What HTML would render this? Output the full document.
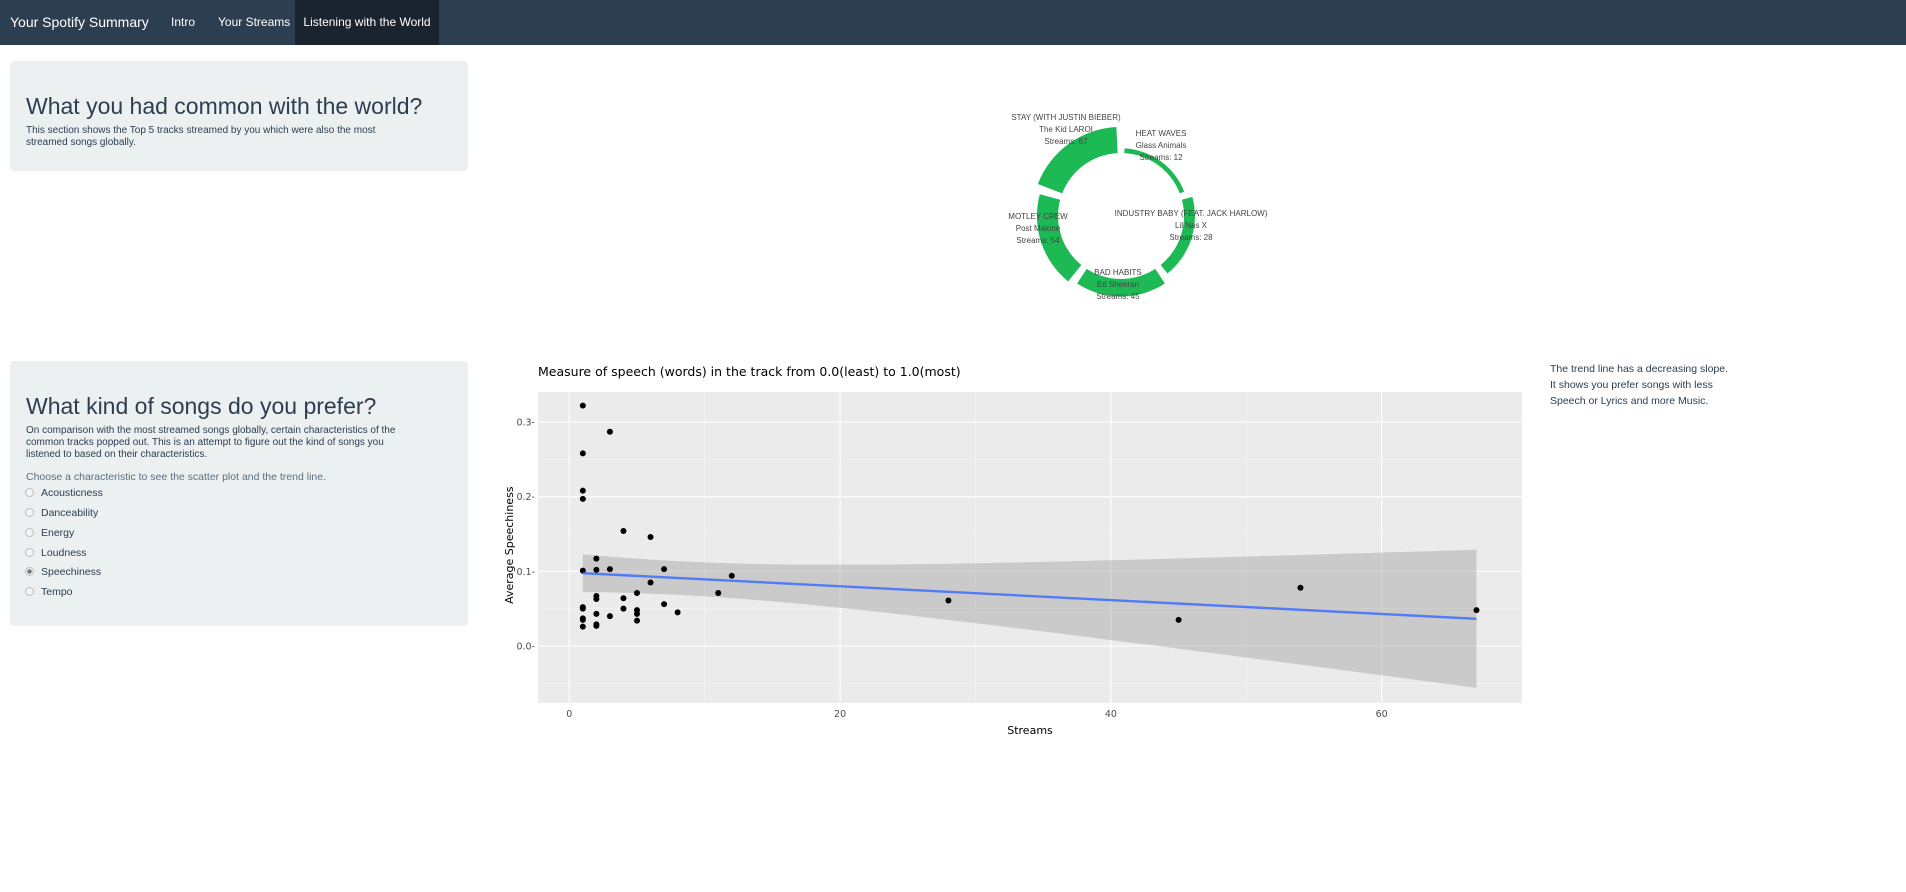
<!DOCTYPE html>
<html><head><meta charset="utf-8">
<style>
body{margin:0;width:1906px;height:892px;background:#fff;font-family:"Liberation Sans",sans-serif;position:relative;overflow:hidden}
.nav{position:absolute;left:0;top:0;width:1906px;height:45px;background:#2c3e50}
.nav div{position:absolute;top:0;height:45px;line-height:45px;color:#fff;font-size:12px}
.panel{position:absolute;left:10px;width:458px;background:#ecf0f1;border-radius:4px}
.abs{position:absolute;white-space:nowrap}
h2{margin:0;font-weight:normal;font-size:23px;color:#2c3e50}
.p{font-size:10px;color:#2c3e50;line-height:12px}
.radio{position:absolute;left:15px;font-size:10.5px;color:#2c3e50}
.radio span{display:inline-block;width:7px;height:7px;border:1px solid #bbb;border-radius:50%;background:#f4f4f4;margin-right:7px;vertical-align:-1px}
</style></head><body>
<div class="nav">
<div style="left:10px;font-size:14px">Your Spotify Summary</div>
<div style="left:171px">Intro</div>
<div style="left:218px">Your Streams</div>
<div style="left:295px;width:144px;background:#1a242f;text-align:center">Listening with the World</div>
</div>
<div class="panel" style="top:61px;height:110px">
<h2 class="abs" style="left:16px;top:32px">What you had common with the world?</h2>
<div class="abs p" style="left:16px;top:64px">This section shows the Top 5 tracks streamed by you which were also the most<br>streamed songs globally.</div>
</div>
<div class="panel" style="top:361px;height:265px">
<h2 class="abs" style="left:16px;top:32px">What kind of songs do you prefer?</h2>
<div class="abs p" style="left:16px;top:64px">On comparison with the most streamed songs globally, certain characteristics of the<br>common tracks popped out. This is an attempt to figure out the kind of songs you<br>listened to based on their characteristics.</div>
<div class="abs p" style="left:16px;top:110px;color:#5a6f80;font-size:10.5px">Choose a characteristic to see the scatter plot and the trend line.</div>
<div class="radio" style="top:126px"><span></span>Acousticness</div>
<div class="radio" style="top:146px"><span></span>Danceability</div>
<div class="radio" style="top:166px"><span></span>Energy</div>
<div class="radio" style="top:186px"><span></span>Loudness</div>
<div class="radio" style="top:205px"><span style="background:radial-gradient(#777 0 2px,#f4f4f4 2.5px)"></span>Speechiness</div>
<div class="radio" style="top:225px"><span></span>Tempo</div>
</div>
<div class="abs" style="left:1550px;top:361px;font-size:10.5px;line-height:16px;color:#2c3e50">The trend line has a decreasing slope.<br>It shows you prefer songs with less<br>Speech or Lyrics and more Music.</div>

<svg id="donut" class="abs" style="left:0;top:0" width="1906" height="340"></svg>
<svg id="sc" class="abs" style="left:0;top:340px" width="1906" height="420"></svg>

<script>
const songs=["STAY (WITH JUSTIN BIEBER)","MOTLEY CREW","BAD HABITS","INDUSTRY BABY (FEAT. JACK HARLOW)","HEAT WAVES"];
const artists=["The Kid LAROI","Post Malone","Ed Sheeran","Lil Nas X","Glass Animals"];
const songStreams=[67,54,45,28,12];
const xs=[1,1,1,1,1,1,1,1,1,1,2,2,2,2,2,2,2,3,3,3,4,4,4,5,5,5,5,6,6,7,7,8,11,12,28,45,54,67];
const ys=[0.322,0.258,0.208,0.197,0.101,0.052,0.050,0.037,0.035,0.026,0.117,0.102,0.067,0.063,0.043,0.029,0.027,0.287,0.103,0.040,0.154,0.064,0.050,0.071,0.048,0.043,0.034,0.146,0.085,0.103,0.056,0.045,0.071,0.094,0.061,0.035,0.078,0.048];
const xTicks=[0,20,40,60];
const yTicks=[0.0,0.1,0.2,0.3];
const NS="http://www.w3.org/2000/svg";
function mk(p,t,a){const e=document.createElementNS(NS,t);for(const k in a)e.setAttribute(k,a[k]);p.appendChild(e);return e;}
(function(){
const s=document.getElementById('donut');const cx=1121,cy=216,r0=63,k=0.39;
const lab=[[1066,117],[1038,216],[1118,272],[1191,213],[1161,133]];
songStreams.forEach((v,i)=>{
 const a0=(-i*72-3)*Math.PI/180,a1=(-(i+1)*72+3)*Math.PI/180,r1=r0+v*k;
 const P=(r,a)=>[cx+r*Math.sin(a),cy-r*Math.cos(a)];
 const [x1,y1]=P(r1,a0),[x2,y2]=P(r1,a1),[x3,y3]=P(r0,a1),[x4,y4]=P(r0,a0);
 const e=mk(s,'path',{d:`M${x1},${y1}A${r1},${r1} 0 0 0 ${x2},${y2}L${x3},${y3}A${r0},${r0} 0 0 1 ${x4},${y4}Z`,fill:'#1db954'});
 
 
 [songs[i],artists[i],'Streams: '+v].forEach((t,j)=>{
  const tx=mk(s,'text',{x:lab[i][0],y:lab[i][1]+j*12+3,'text-anchor':'middle','font-size':'8','fill':'#444','font-family':'Liberation Sans'});
  tx.textContent=t;
  
  
 });
});
})();
(function(){
const s=document.getElementById('sc');const oy=340;
const L=538,R=1522,T=392-oy,B=703-oy;
const X=v=>569.3+v*13.54, Y=v=>(646-oy)-v*746.7;
const F='"DejaVu Sans",sans-serif';
mk(s,'rect',{x:L,y:T,width:R-L,height:B-T,fill:'#ebebeb'});
[-0.05,0.05,0.15,0.25].forEach(v=>mk(s,'line',{x1:L,x2:R,y1:Y(v),y2:Y(v),stroke:'#f5f5f5','stroke-width':0.6}));
[10,30,50].forEach(v=>mk(s,'line',{x1:X(v),x2:X(v),y1:T,y2:B,stroke:'#f5f5f5','stroke-width':0.6}));
yTicks.forEach(v=>{mk(s,'line',{x1:L,x2:R,y1:Y(v),y2:Y(v),stroke:'#fff','stroke-width':1.1});
 const t=mk(s,'text',{x:L-3,y:Y(v)+3.5,'text-anchor':'end','font-size':'9.5',fill:'#4d4d4d','font-family':F});t.textContent=v.toFixed(1)+'-';
 
 });
xTicks.forEach(v=>{mk(s,'line',{x1:X(v),x2:X(v),y1:T,y2:B,stroke:'#fff','stroke-width':1.1});
 const t=mk(s,'text',{x:X(v),y:B+14,'text-anchor':'middle','font-size':'9.5',fill:'#4d4d4d','font-family':F});t.textContent=v;
 
 });
const n=xs.length,mx=xs.reduce((a,b)=>a+b)/n,my=ys.reduce((a,b)=>a+b)/n;
let sxx=0,sxy=0;xs.forEach((x,i)=>{sxx+=(x-mx)**2;sxy+=(x-mx)*(ys[i]-my);});
const b=sxy/sxx,a=my-b*mx;let sse=0;xs.forEach((x,i)=>sse+=(ys[i]-a-b*x)**2);
const se=Math.sqrt(sse/(n-2)),tq=1.9;
const x0=Math.min(...xs),x1=Math.max(...xs);const up=[],lo=[];
for(let i=0;i<=60;i++){const x=x0+(x1-x0)*i/60,f=a+b*x,h=tq*se*Math.sqrt(1/n+(x-mx)**2/sxx);up.push(X(x)+','+Y(f+h));lo.unshift(X(x)+','+Y(f-h));}
const band=mk(s,'polygon',{points:up.concat(lo).join(' '),fill:'#999','fill-opacity':0.4});


xs.forEach((x,i)=>{const c=mk(s,'circle',{cx:X(x),cy:Y(ys[i]),r:3,fill:'#000'});
 
 });
const ln=mk(s,'line',{x1:X(x0),y1:Y(a+b*x0),x2:X(x1),y2:Y(a+b*x1),stroke:'#3366ff','stroke-width':2.4,'stroke-opacity':0.8});


const tt=mk(s,'text',{x:538,y:376-oy,'font-size':'12.5',fill:'#000','font-family':F});tt.textContent='Measure of speech (words) in the track from 0.0(least) to 1.0(most)';


const xt=mk(s,'text',{x:1030,y:734-oy,'text-anchor':'middle','font-size':'11',fill:'#000','font-family':F});xt.textContent='Streams';


const yt=mk(s,'text',{x:0,y:0,'text-anchor':'middle','font-size':'11',fill:'#000','font-family':F,transform:`translate(513,${Y(0.135)}) rotate(-90)`});yt.textContent='Average Speechiness';


})();
</script>
</body></html>
